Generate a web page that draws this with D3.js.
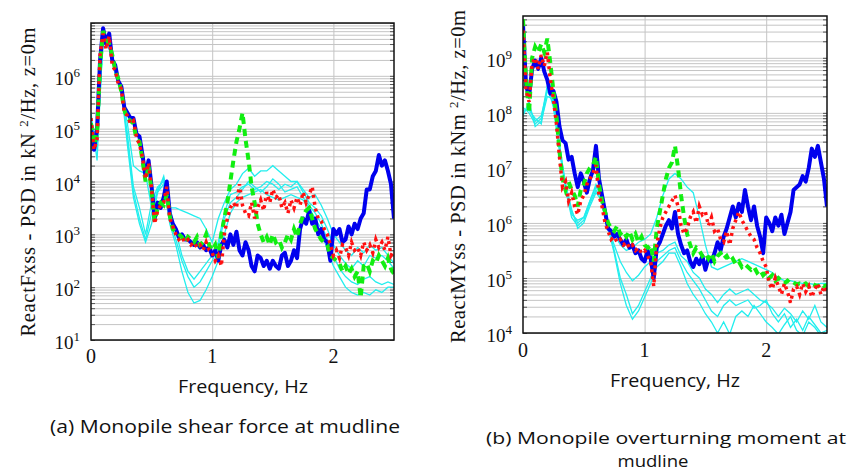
<!DOCTYPE html>
<html>
<head>
<meta charset="utf-8">
<script src="https://cdn.jsdelivr.net/npm/d3@7"></script>
<style>
  body { margin: 0; background: #fff; }
  svg  { display: block; }
</style>
</head>
<body>
<div id="chart"></div>
<script>
// ============================================================================
// DATA  (PSD values stored as log10 exponents)
// ============================================================================

const freqFine = [
  0, 0.025, 0.05, 0.075, 0.1, 0.125, 0.15, 0.175, 0.2, 0.225, 0.25, 0.275, 0.3, 0.325, 0.35, 0.375,
  0.4, 0.425, 0.45, 0.475, 0.5, 0.525, 0.55, 0.575, 0.6, 0.625, 0.65, 0.675, 0.7, 0.725, 0.75, 0.775,
  0.8, 0.825, 0.85, 0.875, 0.9, 0.925, 0.95, 0.975, 1, 1.025, 1.05, 1.075, 1.1, 1.125, 1.15, 1.175,
  1.2, 1.225, 1.25, 1.275, 1.3, 1.325, 1.35, 1.375, 1.4, 1.425, 1.45, 1.475, 1.5, 1.525, 1.55, 1.575,
  1.6, 1.625, 1.65, 1.675, 1.7, 1.725, 1.75, 1.775, 1.8, 1.825, 1.85, 1.875, 1.9, 1.925, 1.95, 1.975,
  2, 2.025, 2.05, 2.075, 2.1, 2.125, 2.15, 2.175, 2.2, 2.225, 2.25, 2.275, 2.3, 2.325, 2.35, 2.375,
  2.4, 2.425, 2.45, 2.475, 2.5
];

const freqCoarse = [
  0, 0.05, 0.1, 0.15, 0.2, 0.25, 0.3, 0.35, 0.4, 0.45, 0.5, 0.55, 0.6, 0.65, 0.7, 0.75, 0.8, 0.85,
  0.9, 0.95, 1, 1.05, 1.1, 1.15, 1.2, 1.25, 1.3, 1.35, 1.4, 1.45, 1.5, 1.55, 1.6, 1.65, 1.7, 1.75,
  1.8, 1.85, 1.9, 1.95, 2, 2.05, 2.1, 2.15, 2.2, 2.25, 2.3, 2.35, 2.4, 2.45, 2.5
];

// (a) shear force, kN^2/Hz
const shearBlue = [
  5.0, 4.6, 5.0, 6.3, 6.9, 6.6, 6.8, 6.3, 6.2, 5.9, 5.8, 5.4, 5.3, 5.2, 5.2, 4.9,
  4.85, 4.5, 4.1, 4.4, 3.9, 3.3, 3.6, 3.5, 3.7, 4.0, 3.4, 3.2, 3.1, 2.95, 3.0, 2.9,
  2.9, 2.85, 2.8, 2.85, 2.75, 2.8, 2.7, 2.75, 2.6, 2.7, 2.5, 2.8, 2.9, 2.75, 3.0, 2.8,
  3.05, 2.7, 2.6, 2.85, 2.7, 2.4, 2.3, 2.6, 2.55, 2.4, 2.5, 2.35, 2.5, 2.4, 2.35, 2.6,
  2.65, 2.4, 2.5, 2.7, 2.55, 3.1, 3.3, 3.2, 3.45, 3.2, 3.3, 3.0, 3.1, 2.9, 2.85, 2.5,
  3.1, 3.0, 3.1, 2.85, 2.9, 3.15, 3.0, 3.2, 3.1, 3.3, 3.4, 3.85, 3.85, 4.1, 4.2, 4.5,
  4.3, 4.4, 4.2, 3.95, 3.3
];
const shearGreen = [
  5.1, 4.7, 4.9, 6.2, 6.85, 6.7, 6.6, 6.4, 6.1, 5.95, 5.7, 5.35, 5.2, 5.15, 5.1, 4.8,
  4.75, 4.4, 4.0, 4.3, 3.8, 3.25, 3.5, 3.6, 3.55, 3.75, 3.35, 3.1, 3.05, 3.0, 2.95, 2.85,
  2.95, 2.9, 2.85, 2.95, 2.8, 2.85, 3.0, 2.8, 2.7, 2.8, 2.55, 3.0, 3.3, 3.6, 4.0, 4.4,
  4.75, 5.0, 5.3, 4.8, 4.4, 3.9, 3.6, 3.2, 3.0, 2.85, 2.95, 2.8, 3.0, 2.85, 2.9, 2.75,
  2.85, 3.0, 2.9, 3.1, 2.95, 3.2, 3.35, 3.45, 3.5, 3.3, 3.1, 3.0, 2.9, 2.85, 2.8, 2.6,
  2.55, 2.5, 2.45, 2.3, 2.4, 2.25, 2.35, 2.2, 2.3, 1.8, 2.4, 2.45, 2.3, 2.5, 2.45, 2.6,
  2.5, 2.4, 2.55, 2.35, 2.25
];
const shearRed = [
  5.2, 4.6, 4.8, 6.4, 6.8, 6.5, 6.75, 6.2, 6.1, 5.85, 5.75, 5.3, 5.25, 5.1, 5.15, 4.85,
  4.7, 4.45, 4.05, 4.35, 3.85, 3.2, 3.45, 3.55, 3.6, 3.9, 3.3, 3.15, 3.0, 2.9, 2.95, 2.85,
  2.9, 2.8, 2.85, 2.75, 2.8, 2.7, 2.85, 2.7, 2.65, 2.5, 2.6, 2.4, 3.0, 3.3, 3.5, 3.6,
  3.5, 3.95, 3.55, 3.4, 3.35, 3.6, 3.3, 3.5, 3.65, 3.45, 3.8, 3.6, 3.85, 3.7, 3.75, 3.5,
  3.6, 3.4, 3.65, 3.5, 3.7, 3.55, 3.8, 3.6, 3.75, 3.9, 3.5, 3.3, 3.25, 3.1, 3.0, 2.8,
  2.6, 2.7, 2.55, 2.8, 2.75, 2.6, 2.85, 2.7, 2.75, 2.6, 2.85, 2.7, 2.8, 2.65, 2.9, 2.75,
  2.85, 2.7, 2.95, 2.6, 2.7
];
const shearCyan = [
  [5.3, 4.4, 6.8, 6.6, 6.1, 5.75, 5.1, 4.3, 4.2, 4.15, 3.5, 3.8, 4.1, 3.5, 3.5, 3.45, 3.4, 3.35,
   3.3, 3.1, 2.85, 3.3, 3.6, 3.85, 3.95, 4.15, 4.25, 4.1, 4.2, 4.2, 4.3, 4.2, 4.1, 4.0, 4.0, 3.85,
   3.7, 3.75, 3.55, 3.3, 3.0, 2.85, 2.7, 2.6, 2.75, 2.65, 2.8, 2.7, 2.75, 2.6, 2.45],
  [5.0, 4.6, 6.7, 6.5, 6.2, 5.7, 4.9, 3.9, 3.5, 3.0, 3.6, 3.9, 4.0, 3.4, 3.05, 2.6, 2.3, 2.15,
   2.3, 2.45, 2.6, 2.85, 3.4, 3.75, 3.8, 3.9, 3.95, 3.85, 3.9, 4.0, 3.95, 3.85, 3.95, 3.9, 4.0, 3.8,
   3.6, 3.5, 3.35, 3.1, 2.8, 2.6, 2.45, 2.35, 2.5, 2.4, 2.6, 2.55, 2.6, 2.5, 2.35],
  [4.6, 5.0, 6.6, 6.7, 6.0, 5.8, 4.8, 3.8, 3.3, 2.9, 3.4, 3.85, 4.05, 3.3, 2.9, 2.5, 2.2, 2.0,
   2.1, 2.3, 2.5, 2.75, 3.3, 3.6, 3.7, 3.85, 4.0, 3.9, 3.8, 3.9, 4.05, 3.95, 3.8, 3.85, 3.9, 3.7,
   3.55, 3.4, 3.2, 2.9, 2.6, 2.35, 2.2, 2.1, 2.05, 2.15, 2.2, 2.1, 2.05, 2.1, 2.05],
  [5.1, 4.8, 6.9, 6.6, 6.1, 5.75, 4.7, 3.7, 3.2, 2.85, 3.2, 3.8, 3.95, 3.2, 2.8, 2.3, 1.9, 1.7,
   1.75, 1.95, 2.2, 2.5, 3.0, 3.4, 3.6, 3.7, 3.75, 3.8, 3.85, 3.75, 3.7, 3.65, 3.7, 3.75, 3.7, 3.65,
   3.5, 3.3, 3.1, 2.7, 2.4, 2.2, 2.0, 1.9, 1.85, 1.9, 1.85, 1.95, 1.9, 2.0, 2.0]
];

// (b) overturning moment, kNm^2/Hz
const momentBlue = [
  9.6, 8.5, 8.3, 8.8, 8.95, 8.8, 9.0, 8.75, 8.6, 8.35, 8.4, 8.2, 7.75, 7.5, 7.45, 7.15,
  7.2, 6.9, 6.65, 6.9, 6.75, 6.55, 6.8, 6.95, 7.4, 6.8, 6.5, 6.2, 5.9, 5.85, 5.75, 5.8,
  5.7, 5.6, 5.7, 5.55, 5.6, 5.45, 5.5, 5.35, 5.3, 5.5, 5.35, 5.0, 5.55, 5.65, 5.8, 5.95,
  6.05, 5.9, 6.2, 5.8, 5.6, 5.45, 5.5, 5.3, 5.2, 5.35, 5.25, 5.4, 5.15, 5.35, 5.3, 5.45,
  5.65, 5.5, 5.75, 5.9, 6.1, 6.3, 6.1, 6.35, 6.2, 6.6, 6.3, 6.05, 6.3, 5.95, 5.75, 5.45,
  6.1, 6.0, 5.85, 6.1, 5.95, 6.15, 5.8, 6.0, 6.2, 6.6, 6.65, 6.7, 6.85, 6.75, 7.0, 7.35,
  7.2, 7.4, 7.1, 6.8, 6.3
];
const momentGreen = [
  9.7, 8.6, 8.0, 9.0, 9.2, 9.1, 9.25, 9.1, 9.35, 8.9, 8.4, 7.95, 7.3, 6.8, 6.6, 6.75,
  6.6, 6.5, 6.3, 6.6, 6.7, 6.9, 7.0, 7.05, 7.2, 6.7, 6.4, 6.2, 6.0, 5.9, 5.85, 5.95,
  5.8, 5.85, 5.75, 5.85, 5.7, 5.8, 5.65, 5.75, 5.6, 5.55, 5.6, 5.3, 5.9, 6.2, 6.5, 6.8,
  7.0, 7.1, 7.4, 7.0, 6.5, 6.1, 5.8, 5.6, 5.45, 5.55, 5.5, 5.4, 5.45, 5.35, 5.45, 5.3,
  5.4, 5.45, 5.35, 5.4, 5.3, 5.35, 5.25, 5.3, 5.2, 5.25, 5.2, 5.15, 5.2, 5.1, 5.15, 5.05,
  5.1, 5.0, 5.05, 4.95, 5.0, 4.95, 4.9, 4.95, 4.9, 4.92, 4.88, 4.9, 4.87, 4.9, 4.85, 4.9,
  4.87, 4.85, 4.9, 4.85, 4.87
];
const momentRed = [
  9.5, 8.4, 8.2, 8.9, 9.0, 8.8, 9.05, 8.85, 9.1, 8.6, 8.25, 7.8, 7.2, 6.65, 6.75, 6.4,
  6.55, 6.3, 6.15, 6.4, 6.5, 6.7, 6.8, 6.9, 7.05, 6.5, 6.3, 6.0, 5.85, 5.7, 5.75, 5.65,
  5.7, 5.6, 5.65, 5.55, 5.6, 5.5, 5.55, 5.45, 5.5, 5.4, 5.3, 4.85, 5.6, 5.9, 6.1, 6.2,
  6.3, 6.4, 6.5, 6.3, 5.95, 5.8, 5.9, 6.1, 6.2, 6.0, 6.3, 6.15, 6.2, 5.95, 6.1, 5.85,
  5.9, 5.7, 5.65, 5.85, 5.6, 5.9, 6.05, 6.2, 6.05, 5.95, 5.85, 5.75, 5.7, 5.55, 5.45, 5.3,
  5.2, 4.9, 4.8, 5.0, 4.85, 4.7, 4.9, 4.75, 4.55, 4.8, 4.85, 4.7, 4.9, 4.75, 4.85, 4.65,
  4.8, 4.9, 4.7, 4.85, 4.75
];
const momentCyan = [
  [8.0, 8.1, 7.85, 7.95, 8.4, 8.2, 7.4, 6.7, 6.2, 6.0, 6.1, 6.4, 6.7, 6.45, 5.95, 5.8, 5.6, 5.5,
   5.55, 5.65, 5.7, 5.8, 6.1, 6.5, 6.8, 6.9, 6.8, 6.65, 6.55, 6.1, 5.6, 5.2, 5.15, 5.2, 5.25, 5.3,
   5.35, 5.3, 5.25, 5.2, 5.15, 5.1, 5.0, 4.95, 4.95, 4.92, 4.9, 4.9, 4.88, 4.9, 4.9],
  [8.1, 8.0, 7.8, 7.9, 8.5, 8.1, 7.35, 6.6, 6.1, 5.95, 6.05, 6.35, 6.6, 6.4, 5.9, 5.6, 5.3, 5.1,
   4.95, 5.05, 5.2, 5.3, 5.45, 5.5, 5.6, 5.65, 5.4, 5.3, 5.1, 5.0, 4.8, 4.7, 4.55, 4.7, 4.8, 4.7,
   4.75, 4.8, 4.7, 4.6, 4.55, 4.45, 4.3, 4.45, 4.35, 4.2, 4.4, 4.25, 4.5, 4.2, 4.1],
  [7.95, 8.2, 7.75, 7.85, 8.3, 8.25, 7.45, 6.65, 6.15, 6.05, 6.1, 6.4, 6.65, 6.5, 5.95, 5.5, 5.0, 4.7,
   4.35, 4.5, 4.75, 5.0, 5.3, 5.4, 5.5, 5.55, 5.3, 5.1, 4.95, 4.8, 4.6, 4.4, 4.3, 4.5, 4.6, 4.5,
   4.55, 4.6, 4.45, 4.5, 4.6, 4.35, 4.2, 4.35, 4.1, 4.25, 4.05, 4.3, 4.15, 4.0, 4.05],
  [8.05, 8.05, 7.9, 7.8, 8.45, 8.15, 7.3, 6.7, 6.25, 5.9, 6.0, 6.3, 6.55, 6.4, 5.9, 5.45, 4.9, 4.5,
   4.25, 4.4, 4.65, 4.9, 5.2, 5.3, 5.45, 5.45, 5.2, 4.9, 4.7, 4.55, 4.35, 4.2, 4.0, 4.2, 3.98, 4.3,
   4.4, 4.3, 4.5, 4.35, 4.2, 4.1, 3.98, 4.15, 4.3, 4.05, 3.95, 4.2, 4.1, 3.95, 4.0]
];

const xTickValues = [0, 1, 2];


// ============================================================================
// PANEL SETUP
// ============================================================================

const SERIF = "'Liberation Serif', 'DejaVu Serif', serif";
const SANS  = "'Open Sans', Lato, sans-serif";

const panels = [
    {
        id: "a",
        box: { left: 91, top: 23, right: 394, bottom: 340 },
        yDomain: [1e1, 1e7],
        decades: [1, 2, 3, 4, 5, 6],
        title: ["ReactFxss - PSD in kN ", "2", "/Hz, z=0m"],
        titleX: 35, titleY: 182, titleLen: 309,
        xTickY: 363,
        xLabelX: 243, xLabelY: 393,
        caption: [{ text: "(a) Monopile shear force at mudline", x: 225, y: 433, len: 350, size: 19 }],
        cyan: shearCyan, blue: shearBlue, green: shearGreen, red: shearRed
    },
    {
        id: "b",
        box: { left: 523, top: 16, right: 827, bottom: 333 },
        yDomain: [1e4, Math.pow(10, 9.76)],
        decades: [4, 5, 6, 7, 8, 9],
        title: ["ReactMYss - PSD in kNm  ", "2", "/Hz, z=0m"],
        titleX: 465, titleY: 176.5, titleLen: 333,
        xTickY: 357,
        xLabelX: 675, xLabelY: 387,
        caption: [
            { text: "(b) Monopile overturning moment at", x: 666, y: 444, len: 360, size: 16.5 },
            { text: "mudline", x: 653, y: 467, len: 71, size: 16.5 }
        ],
        cyan: momentCyan, blue: momentBlue, green: momentGreen, red: momentRed
    }
];

const svg = d3.select("#chart")
    .append("svg")
    .attr("width", 850)
    .attr("height", 472);


// ============================================================================
// DRAW
// ============================================================================

function drawPanel(p) {
    const b = p.box;
    const w = b.right - b.left;
    const h = b.bottom - b.top;

    const x = d3.scaleLinear().domain([0, 2.5]).range([0, w]);
    const y = d3.scaleLog().domain(p.yDomain).range([h, 0]);

    // every 1..9 x 10^n line that falls inside the domain
    const gridVals = [];
    const lo = Math.floor(Math.log10(p.yDomain[0]));
    const hi = Math.ceil(Math.log10(p.yDomain[1]));
    for (let n = lo; n <= hi; n++) {
        for (let k = 1; k <= 9; k++) {
            const v = k * Math.pow(10, n);
            if (v >= p.yDomain[0] && v <= p.yDomain[1]) gridVals.push(v);
        }
    }

    const g = svg.append("g")
        .attr("transform", `translate(${b.left},${b.top})`);

    // horizontal grid
    g.append("g")
        .attr("class", "grid-y")
        .call(d3.axisLeft(y).tickValues(gridVals).tickSize(-w).tickFormat(""))
        .call(s => s.select(".domain").remove())
        .call(s => s.selectAll("line")
            .attr("stroke", "#c4c4c4")
            .attr("stroke-width", 1));

    // vertical grid
    g.append("g")
        .attr("class", "grid-x")
        .call(d3.axisBottom(x).tickValues([1, 2]).tickSize(h).tickFormat(""))
        .call(s => s.select(".domain").remove())
        .call(s => s.selectAll("line")
            .attr("stroke", "#c4c4c4")
            .attr("stroke-width", 1));

    // inner ticks on left and right edges
    g.append("g")
        .call(d3.axisLeft(y).tickValues(gridVals).tickSize(-4).tickFormat(""))
        .call(s => s.select(".domain").remove())
        .call(s => s.selectAll("line").attr("stroke", "#555"));
    g.append("g")
        .attr("transform", `translate(${w},0)`)
        .call(d3.axisRight(y).tickValues(gridVals).tickSize(-4).tickFormat(""))
        .call(s => s.select(".domain").remove())
        .call(s => s.selectAll("line").attr("stroke", "#555"));

    // data lines, clipped to the frame
    g.append("clipPath")
        .attr("id", `clip-${p.id}`)
        .append("rect")
        .attr("width", w)
        .attr("height", h);

    const plot = g.append("g").attr("clip-path", `url(#clip-${p.id})`);

    const fineLine = d3.line()
        .x((d, i) => x(freqFine[i]))
        .y(d => y(Math.pow(10, d)));

    const coarseLine = d3.line()
        .x((d, i) => x(freqCoarse[i]))
        .y(d => y(Math.pow(10, d)));

    plot.selectAll("path.cyan")
        .data(p.cyan)
        .join("path")
        .attr("class", "cyan")
        .attr("d", coarseLine)
        .attr("fill", "none")
        .attr("stroke", "#22eeee")
        .attr("stroke-width", 1.3);

    plot.append("path")
        .attr("d", fineLine(p.blue))
        .attr("fill", "none")
        .attr("stroke", "#0000ee")
        .attr("stroke-width", 4)
        .attr("stroke-linejoin", "round");

    plot.append("path")
        .attr("d", fineLine(p.green))
        .attr("fill", "none")
        .attr("stroke", "#11ee11")
        .attr("stroke-width", 4)
        .attr("stroke-dasharray", "7,5");

    plot.append("path")
        .attr("d", fineLine(p.red))
        .attr("fill", "none")
        .attr("stroke", "#ff1111")
        .attr("stroke-width", 3.5)
        .attr("stroke-dasharray", "3,4");

    // frame
    g.append("rect")
        .attr("width", w)
        .attr("height", h)
        .attr("fill", "none")
        .attr("stroke", "#111")
        .attr("stroke-width", 1.5);

    // y tick labels  10^n
    const yl = g.selectAll("text.ylab")
        .data(p.decades)
        .join("text")
        .attr("class", "ylab")
        .attr("x", -11)
        .attr("y", d => y(Math.pow(10, d)) + 9)
        .attr("text-anchor", "end")
        .style("font-family", SERIF)
        .style("font-size", "19px")
        .attr("fill", "#111");
    yl.append("tspan").text("10");
    yl.append("tspan")
        .attr("dy", -8)
        .style("font-size", "13px")
        .text(d => d);

    // x tick labels
    g.selectAll("text.xlab")
        .data(xTickValues)
        .join("text")
        .attr("class", "xlab")
        .attr("x", d => x(d))
        .attr("y", p.xTickY - b.top)
        .attr("text-anchor", "middle")
        .style("font-family", SERIF)
        .style("font-size", "20px")
        .attr("fill", "#111")
        .text(d => d);

    // y axis title
    const t = svg.append("text")
        .attr("transform", `translate(${p.titleX},${p.titleY}) rotate(-90)`)
        .attr("text-anchor", "middle")
        .attr("textLength", p.titleLen)
        .style("font-family", SERIF)
        .style("font-size", "20.5px")
        .attr("fill", "#111");
    t.append("tspan").text(p.title[0]);
    t.append("tspan").attr("dy", -7).style("font-size", "13px").text(p.title[1]);
    t.append("tspan").attr("dy", 7).text(p.title[2]);

    // x axis title
    svg.append("text")
        .attr("x", p.xLabelX)
        .attr("y", p.xLabelY)
        .attr("text-anchor", "middle")
        .attr("textLength", 130)
        .attr("lengthAdjust", "spacingAndGlyphs")
        .style("font-family", SANS)
        .style("font-size", "18px")
        .attr("fill", "#111")
        .text("Frequency, Hz");

    // sub-figure caption
    svg.selectAll(`text.cap-${p.id}`)
        .data(p.caption)
        .join("text")
        .attr("class", `cap-${p.id}`)
        .attr("x", d => d.x)
        .attr("y", d => d.y)
        .attr("text-anchor", "middle")
        .attr("textLength", d => d.len)
        .attr("lengthAdjust", "spacingAndGlyphs")
        .style("font-family", SANS)
        .style("font-size", d => d.size + "px")
        .attr("fill", "#111")
        .text(d => d.text);
}

panels.forEach(drawPanel);
</script>
</body>
</html>
